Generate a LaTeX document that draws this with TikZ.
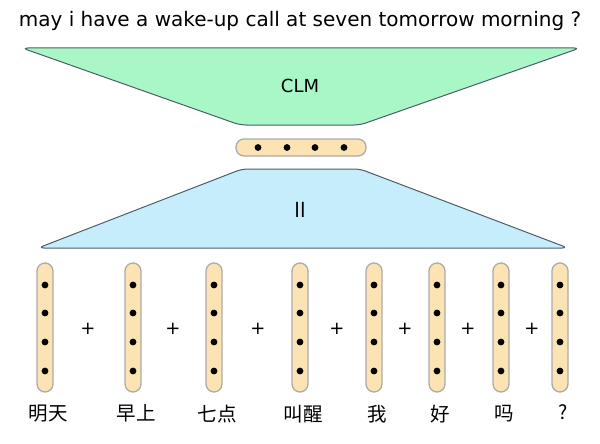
\documentclass[tikz,border=0pt]{standalone}
\usepackage{fontspec}
\setmainfont{DejaVu Sans}
\newfontfamily\cjk{Noto Sans CJK SC}
\usetikzlibrary{positioning,calc}
\definecolor{clmgreen}{HTML}{A9F7C6}
\definecolor{llblue}{HTML}{C6EDFC}
\definecolor{pillfill}{HTML}{FCE3B3}
\definecolor{pillline}{HTML}{ABABAB}
\definecolor{edge}{HTML}{4E5E66}
\tikzset{titletext/.style={font=\fontsize{20}{24}\selectfont,inner sep=0pt},
 blocklabel/.style={font=\fontsize{18}{22}\selectfont,inner sep=0pt},
 clmblock/.style={draw=edge,fill=clmgreen,line width=1pt,rounded corners=6pt,line join=round},
 llblock/.style={draw=edge,fill=llblue,line width=1pt,rounded corners=6pt,line join=round},
 pillh/.style={draw=pillline,fill=pillfill,line width=1.3pt,rounded corners=8pt,
 minimum width=130pt,minimum height=17pt,inner sep=0pt},
 pillv/.style={draw=pillline,fill=pillfill,line width=1.3pt,rounded corners=8pt,
 minimum width=16pt,minimum height=129pt,inner sep=0pt},
 wordtext/.style={font=\cjk\fontsize{19.5}{22}\selectfont,inner sep=0pt},
 plustext/.style={font=\fontsize{18}{20}\selectfont,inner sep=0pt}}

\begin{document}
\begin{tikzpicture}[x=1pt,y=-1pt]
\useasboundingbox (0,0) rectangle (600,444);
\node[titletext] (sentence) at (300,21) {may i have a wake-up call at seven tomorrow morning ?};
% decoder and encoder blocks
\draw[clmblock] (22,48) -- (580,48) -- (360,125) -- (240,125) -- cycle;
\node[blocklabel] (clm) at (300,86) {CLM};
\draw[llblock] (242,169) -- (360,169) -- (568,248) -- (38,248) -- cycle;
\node[blocklabel,font=\fontsize{20}{24}\selectfont] (ll) at (300,210) {ll};
% sentence vector
\node[pillh] (context) at (301,147.5) {};
\foreach \dx in {-43,-14,14,43} \fill ($(context)+(\dx,0)$) circle (3.4pt);
% word vectors
\foreach \name/\x/\word in {w1/45/明天,w2/133/早上,w3/214/七点,w4/300/叫醒,w5/374/我,w6/437/好,w7/501/吗,w8/560/?}{
 \node[pillv] (\name) at (\x,327.5) {};
 \foreach \dy in {-42.5,-14.5,14.5,43.5} \fill ($(\name)+(0,\dy)$) circle (3.4pt);
 \node[wordtext,below=12pt of \name,xshift=3pt] (\name-word) {\word};
}
\foreach \x in {88,173,258,337,405,468,532} \node[plustext] at (\x,329) {+};
\end{tikzpicture}
\end{document}
